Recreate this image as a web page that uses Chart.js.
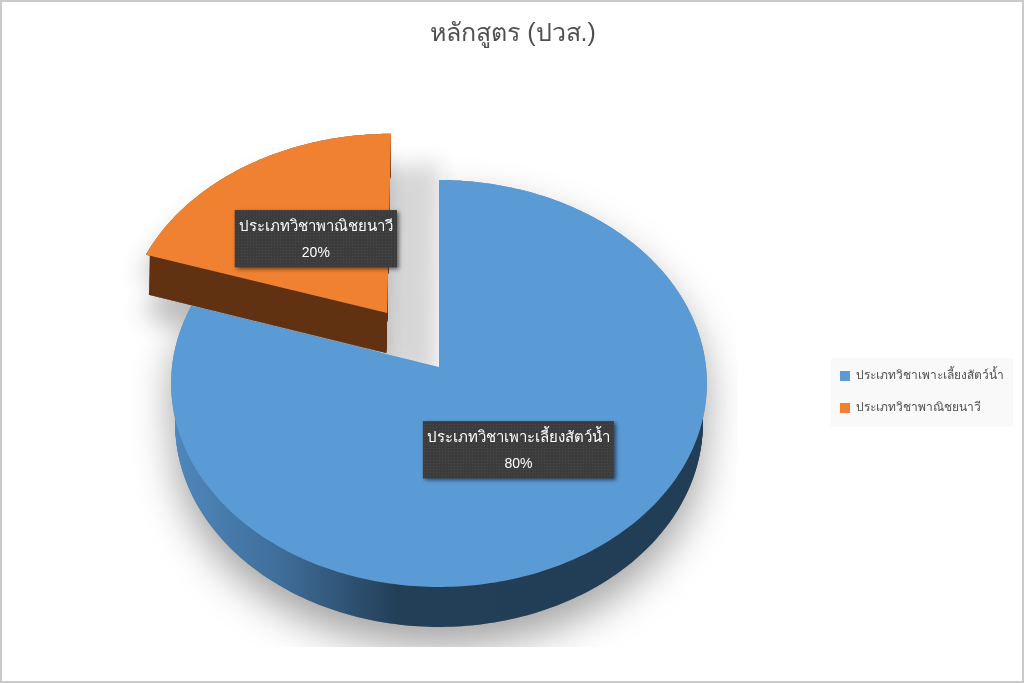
<!DOCTYPE html>
<html>
<head>
<meta charset="utf-8">
<title>หลักสูตร (ปวส.)</title>
<script src="https://cdn.jsdelivr.net/npm/chart.js@4"></script>
<style>
  html, body { margin: 0; padding: 0; background: #fff; overflow: hidden; }
  canvas { display: block; outline: 2px solid #cacaca; outline-offset: -2px; }
</style>
</head>
<body>
<canvas id="chart" width="1024" height="683"></canvas>
<script>
const categories = ["ประเภทวิชาเพาะเลี้ยงสัตว์น้ำ", "ประเภทวิชาพาณิชยนาวี"];
const shares = [80, 20];
const sliceOffsets = [0, 84];
const faceColors = ["#5b9bd5", "#f08130"];

const FONT = '"Liberation Sans", Arial, "Noto Sans", sans-serif';

// the 3D look: a perspective view of the flat pie, fed by the arc elements
const view = { cx: 439, cy: 367, r: 267, squash: 0.757, persp: 0.081, depth: 40, shrink: 0.985, lean: 0.02 };

function project(u, v, drop, ou) {
  const w = 1 - view.persp * v;
  const k = drop ? view.shrink : 1;
  const x = view.cx + view.r * u / w;
  const ox = view.cx + view.r * ou;
  return {
    x: ox + k * (x - ox) - (ou ? drop * view.lean : 0),
    y: view.cy + view.r * view.squash * v / w + drop
  };
}

// centre of the slice in unit disk coordinates, moved out by its offset
function sliceOrigin(arc) {
  const mid = (arc.startAngle + arc.endAngle) / 2;
  const d = arc.options.offset / arc.outerRadius;
  return { u: Math.cos(mid) * d, v: Math.sin(mid) * d };
}

function addSlice(ctx, arc, drop) {
  const o = sliceOrigin(arc);
  const steps = Math.ceil((arc.endAngle - arc.startAngle) * 60);
  let p = project(o.u, o.v, drop, o.u);
  ctx.moveTo(p.x, p.y);
  for (let i = 0; i <= steps; i++) {
    const a = arc.startAngle + (arc.endAngle - arc.startAngle) * i / steps;
    p = project(o.u + Math.cos(a), o.v + Math.sin(a), drop, o.u);
    ctx.lineTo(p.x, p.y);
  }
  ctx.closePath();
}

function castShadow(ctx, arc, alpha, blur, dx, dy, keepNotchClean) {
  ctx.save();
  ctx.beginPath();
  ctx.rect(0, 0, 738, 647);
  if (keepNotchClean) ctx.rect(380, 0, 65, 367);
  ctx.clip("evenodd");
  ctx.shadowColor = "rgba(0,0,0," + alpha + ")";
  ctx.shadowBlur = blur;
  ctx.shadowOffsetX = dx;
  ctx.shadowOffsetY = dy;
  ctx.fillStyle = "#888";
  ctx.beginPath();
  addSlice(ctx, arc, view.depth);
  addSlice(ctx, arc, 0);
  ctx.fill();
  ctx.restore();
}

function drawSolid(ctx, arc, sideFill, faceFill) {
  ctx.fillStyle = sideFill;
  for (let d = view.depth; d > 0; d--) {
    ctx.beginPath();
    addSlice(ctx, arc, d);
    ctx.fill();
  }
  ctx.fillStyle = faceFill;
  ctx.beginPath();
  addSlice(ctx, arc, 0);
  ctx.fill();
}

function dotPattern(ctx) {
  const tile = document.createElement("canvas");
  tile.width = 3;
  tile.height = 3;
  const t = tile.getContext("2d");
  t.fillStyle = "#3c3c3c";
  t.fillRect(0, 0, 3, 3);
  t.fillStyle = "#4a4a4a";
  t.fillRect(1, 1, 1, 1);
  return ctx.createPattern(tile, "repeat");
}

function drawLabel(ctx, arc, name, share) {
  const o = sliceOrigin(arc);
  const mid = (arc.startAngle + arc.endAngle) / 2;
  const c = project(o.u + Math.cos(mid) * 0.49, o.v + Math.sin(mid) * 0.49, 0, o.u);
  ctx.font = "15px " + FONT;
  const w = ctx.measureText(name).width + 8;
  const h = 57;
  ctx.save();
  ctx.shadowColor = "rgba(0,0,0,0.55)";
  ctx.shadowBlur = 4;
  ctx.shadowOffsetX = 2;
  ctx.shadowOffsetY = 2;
  ctx.fillStyle = "#3e3e3e";
  ctx.fillRect(c.x - w / 2, c.y - h / 2, w, h);
  ctx.restore();
  ctx.fillStyle = dotPattern(ctx);
  ctx.fillRect(c.x - w / 2, c.y - h / 2, w, h);
  ctx.fillStyle = "#fff";
  ctx.textAlign = "center";
  ctx.textBaseline = "middle";
  ctx.fillText(name, c.x, c.y - 12);
  ctx.font = "14px " + FONT;
  ctx.fillText(share + "%", c.x, c.y + 14);
}

const pie3d = {
  id: "pie3d",
  beforeDraw(chart) {
    // pale panel behind the legend rows
    const boxes = chart.legend.legendHitBoxes;
    const first = boxes[0];
    const last = boxes[boxes.length - 1];
    chart.ctx.fillStyle = "#f9f9f9";
    chart.ctx.fillRect(first.left - 9, first.top - 12, first.width + 18, last.top + last.height - first.top + 25);
  },
  beforeDatasetsDraw(chart) {
    const ctx = chart.ctx;
    const arcs = chart.getDatasetMeta(0).data;
    const grad = ctx.createLinearGradient(172, 0, 708, 0);
    grad.addColorStop(0, "#4f88bd");
    grad.addColorStop(0.2, "#3f6e9a");
    grad.addColorStop(0.42, "#233f58");
    grad.addColorStop(1, "#223e56");

    castShadow(ctx, arcs[1], 0.16, 22, 50, 30, false);
    castShadow(ctx, arcs[1], 0.25, 24, -6, 22, false);
    castShadow(ctx, arcs[0], 0.36, 40, 0, 20, true);
    drawSolid(ctx, arcs[0], grad, faceColors[0]);
    drawSolid(ctx, arcs[1], "#613213", faceColors[1]);
    arcs.forEach((arc, i) => drawLabel(ctx, arc, categories[i], shares[i]));
    return false;
  }
};

new Chart(document.getElementById("chart"), {
  type: "pie",
  data: {
    labels: categories,
    datasets: [{
      data: shares,
      backgroundColor: faceColors,
      offset: sliceOffsets,
      borderWidth: 0
    }]
  },
  options: {
    responsive: false,
    animation: false,
    layout: { padding: { left: 12, right: 10 } },
    plugins: {
      tooltip: { enabled: false },
      title: {
        display: true,
        text: "หลักสูตร (ปวส.)",
        color: "#505050",
        font: { family: FONT, size: 25, weight: "normal" },
        padding: { top: 19, bottom: 52 }
      },
      legend: {
        position: "right",
        fullSize: false,
        labels: {
          color: "#505050",
          font: { family: FONT, size: 12 },
          boxWidth: 10,
          boxHeight: 10,
          padding: 20
        }
      }
    }
  },
  plugins: [pie3d]
});
</script>
</body>
</html>
